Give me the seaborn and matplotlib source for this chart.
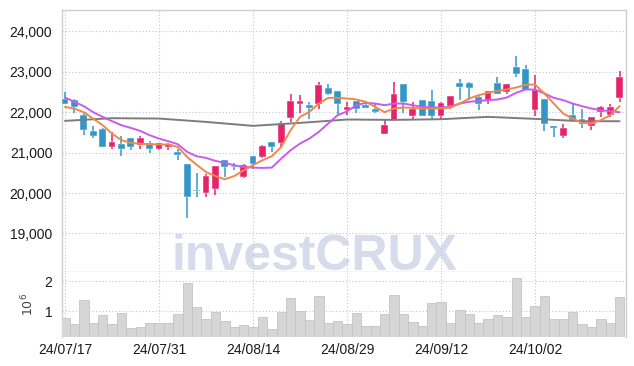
import numpy as np
import pandas as pd
import seaborn as sns
import matplotlib.pyplot as plt

# tick labels on the date axis (every 10th trading day)
tick_pos = [0, 10, 20, 30, 40, 50]
tick_labels = ["24/07/17", "24/07/31", "24/08/14", "24/08/29", "24/09/12", "24/10/02"]

# daily OHLC
open_ = [22320, 22310, 21930, 21530, 21580, 21140, 21210, 21370, 21190, 21250,
         21080, 21140, 21020, 20710, 20070, 19990, 20100, 20810, 20670, 20400,
         20910, 20890, 21260, 21240, 21850, 22210, 22170, 22210, 22610, 22520,
         22050, 22270, 22190, 22070, 21470, 21810, 22710, 21910, 22310, 22270,
         21910, 22160, 22720, 22720, 22370, 22300, 22730, 22500, 23120, 23070,
         22050, 22320, 21670, 21400, 21930, 21820, 21660, 22000, 21940, 22360]
high = [22500, 22320, 21970, 21670, 21620, 21510, 21420, 21370, 21420, 21290,
        21250, 21250, 21100, 20730, 20500, 20470, 20660, 20810, 20750, 20720,
        20910, 21200, 21260, 21780, 22460, 22420, 22260, 22750, 22690, 22520,
        22260, 22280, 22260, 22210, 21830, 22750, 22710, 22260, 22310, 22560,
        22260, 22410, 22810, 22760, 22420, 22520, 22860, 22710, 23390, 23170,
        22920, 22320, 21670, 21700, 22210, 22070, 21870, 22160, 22210, 23020]
low = [22200, 21970, 21430, 21370, 21140, 21100, 20910, 21060, 21090, 21000,
       21060, 21070, 20810, 19390, 19900, 19900, 19960, 20400, 20560, 20380,
       20600, 20870, 21020, 21140, 21760, 21970, 21830, 22070, 22420, 21930,
       21930, 21970, 22100, 21990, 21470, 21810, 21990, 21810, 21900, 21810,
       21810, 22090, 22300, 22300, 22050, 22210, 22460, 22460, 22860, 22550,
       21910, 21530, 21390, 21370, 21800, 21620, 21570, 21880, 21880, 22260]
close = [22210, 22130, 21550, 21410, 21140, 21260, 21090, 21140, 21370, 21090,
         21250, 21220, 20950, 19900, 20050, 20430, 20660, 20650, 20650, 20700,
         20730, 21160, 21140, 21740, 22280, 22270, 22110, 22670, 22460, 22210,
         22120, 22070, 22110, 22000, 21680, 22460, 22260, 22070, 21910, 21910,
         22240, 22410, 22620, 22600, 22200, 22520, 22460, 22710, 22940, 22550,
         22560, 21720, 21610, 21620, 21800, 21720, 21870, 22120, 22120, 22860]

# volume in millions of shares
volume = [0.78, 0.56, 1.39, 0.61, 0.86, 0.56, 0.95, 0.44, 0.48, 0.59,
          0.61, 0.59, 0.91, 1.95, 1.15, 0.75, 0.98, 0.68, 0.48, 0.54,
          0.48, 0.81, 0.41, 0.98, 1.45, 1.01, 0.71, 1.51, 0.59, 0.66,
          0.56, 0.95, 0.50, 0.50, 0.89, 1.56, 0.91, 0.65, 0.50, 1.28,
          1.31, 0.61, 1.05, 0.91, 0.60, 0.74, 0.87, 0.81, 2.11, 0.81,
          1.19, 1.51, 0.74, 0.74, 0.98, 0.56, 0.48, 0.75, 0.61, 1.48]

# moving average lines
ma_short = [22130, 22090, 22000, 21840, 21680, 21470, 21310, 21240, 21220, 21210,
            21200, 21200, 21140, 20890, 20700, 20520, 20420, 20340, 20420, 20560,
            20690, 20810, 20910, 21140, 21555, 21885, 22010, 22215, 22355, 22355,
            22340, 22315, 22257, 22133, 22000, 22092, 22116, 22108, 22092, 22092,
            22092, 22116, 22215, 22340, 22422, 22480, 22530, 22562, 22612, 22678,
            22686, 22463, 22215, 21967, 21843, 21736, 21720, 21802, 21926, 22150]
ma_mid = [22364, 22257, 22149, 22000, 21885, 21778, 21678, 21612, 21538, 21431,
          21348, 21282, 21208, 21018, 20910, 20869, 20795, 20745, 20687, 20646,
          20629, 20621, 20629, 20852, 21059, 21224, 21348, 21513, 21720, 21926,
          22020, 22174, 22232, 22215, 22174, 22215, 22215, 22174, 22133, 22116,
          22116, 22133, 22215, 22257, 22281, 22298, 22314, 22364, 22480, 22562,
          22562, 22463, 22355, 22298, 22215, 22149, 22091, 22050, 22025, 22000]
ma_long_idx = [0, 5, 10, 15, 20, 25, 30, 35, 40, 45, 50, 55, 59]
ma_long = [21786, 21852, 21843, 21760, 21662, 21736, 21819, 21810, 21827, 21885,
           21835, 21777, 21777]

idx = np.arange(len(close))
df = pd.DataFrame({"idx": idx, "open": open_, "high": high, "low": low,
                   "close": close, "volume": volume})

red = "#E6226A"
blue = "#3396C8"
grid_c = "#BFC5DA"
spine_c = "#CFCFCF"
lab_font = ["Liberation Sans", "DejaVu Sans"]

sns.set_style("white")
plt.rcParams["font.family"] = lab_font

fig = plt.figure(figsize=(6.34, 3.66), dpi=100)
ax = fig.add_axes([62 / 634, 1 - 272 / 366, 564 / 634, 262 / 366])
axv = fig.add_axes([62 / 634, 1 - 337 / 366, 564 / 634, 65 / 366], sharex=ax)

# watermark
ax.text(0.448, 0.006, "investCRUX", transform=ax.transAxes, ha="center",
        va="baseline", fontsize=36, fontweight="bold", color="#D6DCEC",
        family=["Liberation Sans", "DejaVu Sans"], zorder=0)

# candles
up = df["close"] >= df["open"]
cols = np.where(up, red, blue)
body_lo = np.minimum(df["open"], df["close"])
body_h = np.maximum(np.abs(df["close"] - df["open"]), 25)
ax.vlines(df["idx"], df["low"], df["high"], colors=cols, lw=1.1, zorder=3)
ax.bar(df["idx"], body_h, bottom=body_lo, width=0.74, color=cols,
       edgecolor="white", linewidth=0.3, zorder=4)

# moving averages
sns.lineplot(x=ma_long_idx, y=ma_long, ax=ax, color="#7C7C7C", lw=1.4, zorder=5)
sns.lineplot(x=idx, y=ma_mid, ax=ax, color="#C95CEB", lw=1.4, zorder=5)
sns.lineplot(x=idx, y=ma_short, ax=ax, color="#F0884C", lw=1.4, zorder=6)

ax.set_xlim(-0.32, 59.68)
ax.set_ylim(18045, 24530)
ax.set_yticks([19000, 20000, 21000, 22000, 23000, 24000])
ax.set_yticklabels(["19,000", "20,000", "21,000", "22,000", "23,000", "24,000"])
ax.set_xticks(tick_pos)
ax.tick_params(axis="x", labelbottom=False, length=0)
ax.tick_params(axis="y", length=0, pad=7, labelsize=10, labelcolor="#1A1A1A")
ax.grid(True, color=grid_c, lw=0.8, ls=(0, (1, 2)), zorder=1)
ax.set_axisbelow(True)
ax.set_xlabel("")
ax.set_ylabel("")
for s in ax.spines.values():
    s.set_color(spine_c)
    s.set_linewidth(1.0)

# volume
sns.barplot(x=df["idx"], y=df["volume"], ax=axv, color="#D6D6D6",
            saturation=1, width=1.0, edgecolor="#C4C4C4", linewidth=0.6,
            native_scale=True, zorder=3)
axv.set_ylim(0.13, 2.32)
axv.set_yticks([1, 2])
axv.set_yticklabels(["1", "2"])
axv.set_xticks(tick_pos)
axv.set_xticklabels(tick_labels)
axv.tick_params(axis="both", length=0, labelsize=10, labelcolor="#1A1A1A")
axv.tick_params(axis="y", pad=7)
axv.tick_params(axis="x", pad=4)
axv.grid(True, color=grid_c, lw=0.8, ls=(0, (1, 2)), zorder=1)
axv.set_axisbelow(True)
axv.set_xlabel("")
axv.set_ylabel(r"$10^6$", fontsize=9, color="#444444", labelpad=6,
               family=["DejaVu Serif"])
axv.set_xlim(-0.32, 59.68)
for name, s in axv.spines.items():
    s.set_color(spine_c)
    s.set_linewidth(1.0)
axv.spines["bottom"].set_visible(False)
axv.spines["top"].set_visible(False)

fig.savefig("out.png", dpi=100, facecolor="white")
